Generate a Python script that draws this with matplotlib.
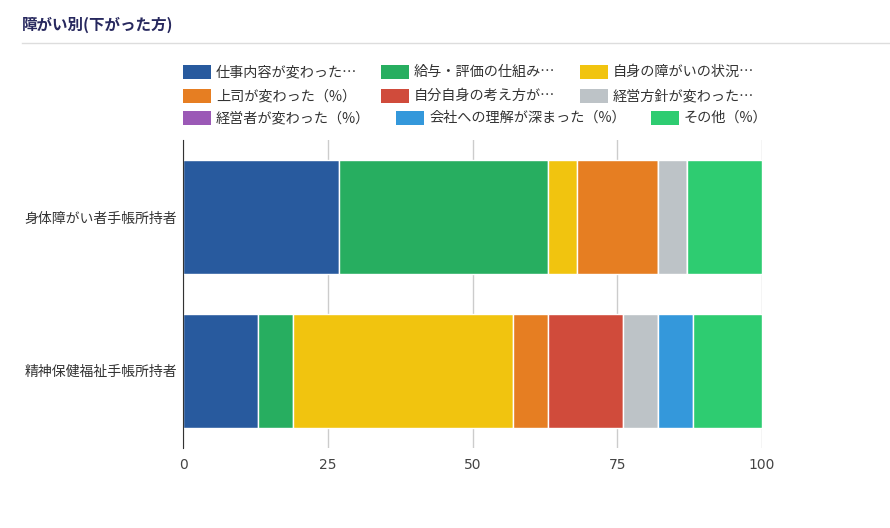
import numpy as np
import matplotlib
matplotlib.use("Agg")
import matplotlib.pyplot as plt
from matplotlib.patches import Rectangle
from matplotlib.lines import Line2D

plt.rcParams['font.family'] = ['Noto Sans CJK JP', 'DejaVu Sans']

title = "障がい別(下がった方)"
groups = ["身体障がい者手帳所持者", "精神保健福祉手帳所持者"]
series = ["仕事内容が変わった…", "給与・評価の仕組み…", "自身の障がいの状況…",
          "上司が変わった（%）", "自分自身の考え方が…", "経営方針が変わった…",
          "経営者が変わった（%）", "会社への理解が深まった（%）", "その他（%）"]
values = [
    [27, 13],
    [36, 6],
    [5, 38],
    [14, 6],
    [0, 13],
    [5, 6],
    [0, 0],
    [0, 6],
    [13, 12],
]
colors = ["#285A9E", "#27AE60", "#F1C40F", "#E67E22", "#D04B3B",
          "#BDC3C7", "#9B59B6", "#3498DB", "#2ECC71"]
xticks = [0, 25, 50, 75, 100]

W, H = 890, 528
fig = plt.figure(figsize=(W / 100, H / 100), dpi=100)

# title + separator
fig.text(22 / W, 1 - 25 / H, title, fontsize=11.2, fontweight="bold",
         color="#27285E", va="center", ha="left")
fig.add_artist(Line2D([22 / W, 1], [1 - 43 / H] * 2, color="#DDDDDD", lw=1))

ax = fig.add_axes([183 / W, 1 - 448 / H, (762 - 183) / W, (448 - 140) / H])
y = np.arange(len(groups))
left = np.zeros(len(groups))
for name, vals, c in zip(series, values, colors):
    vals = np.array(vals, dtype=float)
    ax.barh(y, vals, left=left, height=0.745, color=c, edgecolor="white",
            linewidth=1, label=name, zorder=3)
    left += vals

ax.set_xlim(0, 100)
ax.set_ylim(1.505, -0.505)
ax.set_xticks(xticks)
ax.set_xticklabels([str(t) for t in xticks], family="DejaVu Sans")
ax.set_yticks(y)
ax.set_yticklabels(groups, fontsize=10, color="#333333")
ax.tick_params(axis="x", length=0, pad=7, labelsize=10, labelcolor="#444444")
ax.tick_params(axis="y", length=0, pad=4)
ax.grid(axis="x", color="#CCCCCC", lw=1, zorder=0)
for s in ["top", "right", "bottom"]:
    ax.spines[s].set_visible(False)
ax.spines["left"].set_color("#333333")
ax.spines["left"].set_zorder(4)

# legend laid out like the original flow legend
leg_pos = [(183, 72), (381, 72), (580, 72),
           (183, 96), (381, 96), (580, 96),
           (183, 118), (396, 118), (651, 118)]
for (px, py), name, c in zip(leg_pos, series, colors):
    fig.add_artist(Rectangle((px / W, 1 - (py + 7) / H), 28 / W, 14 / H,
                             facecolor=c, edgecolor="none",
                             transform=fig.transFigure))
    fig.text((px + 33) / W, 1 - py / H, name, fontsize=10.2, color="#333333",
             va="center", ha="left")

fig.savefig("out.png", dpi=100)
